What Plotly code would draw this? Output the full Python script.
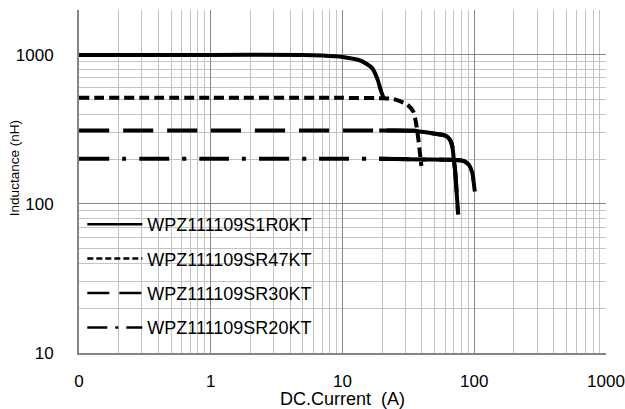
import plotly.graph_objects as go

# ---- data ----
names = ["WPZ111109S1R0KT", "WPZ111109SR47KT", "WPZ111109SR30KT", "WPZ111109SR20KT"]

s1r0_x = [0.1, 1, 5, 7, 10, 13.7, 16.8, 18.5, 19.5, 20.5]
s1r0_y = [1000, 1000, 1000, 990, 968, 915, 815, 680, 580, 515]

sr47_x = [0.1, 1, 10, 20, 24.5, 31, 34.4, 36, 37.4, 38.7, 39.7]
sr47_y = [515, 515, 515, 512, 505, 464, 418, 357, 284, 219, 180]

sr30_x = [0.1, 1, 10, 19, 35, 46.7, 60.7, 65.5, 68.2, 70, 71.5, 73.5, 75.5]
sr30_y = [311, 311, 311, 311, 310, 299, 287, 269, 243, 198, 169, 120, 85]

sr20_x = [0.1, 1, 10, 19, 40, 62.5, 83.6, 91, 96.8, 99, 101]
sr20_y = [201, 201, 201, 201, 199, 198, 194, 183, 161, 140, 121]

x_tickvals = [0.1, 1, 10, 100, 1000]
x_ticktext = ["0", "1", "10", "100", "1000"]
y_tickvals = [10, 100, 1000]
y_ticktext = ["10", "100", "1000"]

series = [(s1r0_x, s1r0_y), (sr47_x, sr47_y), (sr30_x, sr30_y), (sr20_x, sr20_y)]
dashes = ["solid", "10px,5px", "30px,14px", "30px,13px,4px,13px"]
legend_dashes = ["solid", "6px,3px", "22px,10px", "20px,8px,3px,8px"]
# in the reference the high-current part of these two curves is drawn continuous
solid_tail_from = [None, None, 19, 19]

FONT = "Liberation Sans, Arial, sans-serif"

fig = go.Figure()
for i, ((xs, ys), nm, ds, tail) in enumerate(zip(series, names, dashes, solid_tail_from)):
    fig.add_trace(go.Scatter(
        x=xs, y=ys, name=nm, mode="lines", showlegend=False,
        line=dict(color="black", width=4, dash=ds, shape="spline", smoothing=0.6),
        legendgroup=f"g{i}",
    ))
    if tail is not None:
        tx = [x for x in xs if x >= tail]
        ty = [y for x, y in zip(xs, ys) if x >= tail]
        fig.add_trace(go.Scatter(
            x=tx, y=ty, name=nm, mode="lines", showlegend=False,
            line=dict(color="black", width=4, dash="solid", shape="spline", smoothing=0.6),
            legendgroup=f"g{i}",
        ))
# legend-only entries (thinner sample lines as in the reference legend)
for i, (nm, ds) in enumerate(zip(names, legend_dashes)):
    fig.add_trace(go.Scatter(
        x=[None], y=[None], name=nm, mode="lines", showlegend=True,
        line=dict(color="black", width=2.5, dash=ds),
        legendgroup=f"g{i}",
    ))

fig.update_layout(
    width=625, height=409, autosize=False,
    margin=dict(l=79, r=19, t=10, b=56),
    paper_bgcolor="white", plot_bgcolor="white",
    font=dict(family=FONT, color="black", size=17),
    showlegend=True,
    legend=dict(
        x=0.0063, y=0.4286, xanchor="left", yanchor="top",
        bgcolor="rgba(0,0,0,0)", borderwidth=0,
        font=dict(size=18, family=FONT, color="black"),
        tracegroupgap=8, itemwidth=55,
    ),
    annotations=[dict(
        text="Inductance (nH)", textangle=-90, showarrow=False,
        xref="paper", yref="paper", x=-0.1233, y=0.539,
        xanchor="center", yanchor="middle",
        font=dict(size=13.5, family=FONT, color="black"),
    )],
)

fig.update_xaxes(
    type="log", range=[-1, 3], automargin=False,
    tickmode="array", tickvals=x_tickvals, ticktext=x_ticktext,
    tickfont=dict(size=17), ticks="", ticklabelstandoff=12,
    showgrid=True, gridcolor="#878787", gridwidth=1,
    minor=dict(dtick="D1", showgrid=True, gridcolor="#c3c3c3", gridwidth=1, ticks=""),
    showline=True, linecolor="#868686", linewidth=2,
    zeroline=False,
    title=dict(text="DC.Current  (A)", font=dict(size=18), standoff=3),
)
fig.update_yaxes(
    type="log", range=[1, 3.3012], automargin=False,
    tickmode="array", tickvals=y_tickvals, ticktext=y_ticktext,
    tickfont=dict(size=17), ticks="", ticklabelstandoff=20,
    showgrid=True, gridcolor="#878787", gridwidth=1,
    minor=dict(dtick="D1", showgrid=True, gridcolor="#c3c3c3", gridwidth=1, ticks=""),
    showline=True, linecolor="#868686", linewidth=2,
    zeroline=False,
)

fig.write_html("out.html", config={"displayModeBar": False},
               post_script="document.body.style.margin='0';")
